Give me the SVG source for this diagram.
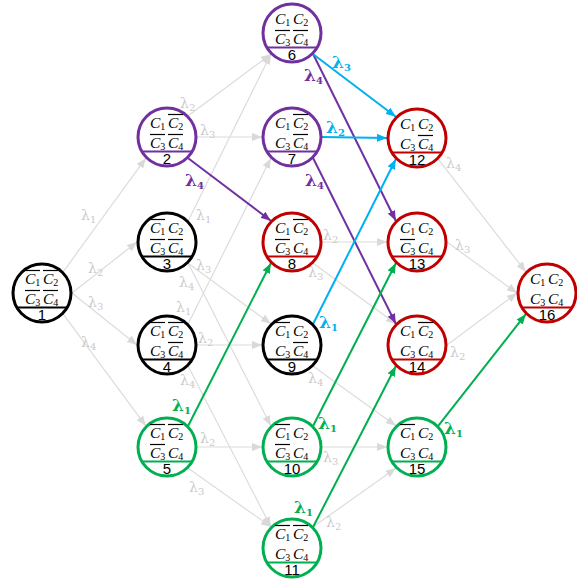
<svg xmlns="http://www.w3.org/2000/svg" width="577" height="579" viewBox="0 0 577 579">
<style>
.bg{fill:#fff}
.n circle{fill:#fff;stroke-width:3}
.n .sep{stroke-width:2}
.k circle,.k .sep{stroke:#000}
.p circle,.p .sep{stroke:#7030A0}
.r circle,.r .sep{stroke:#C00000}
.g circle,.g .sep{stroke:#00B050}
.c{font-family:"Liberation Serif","DejaVu Serif",serif;font-style:italic;font-size:15.5px;fill:#000}
.s{font-size:10px;font-style:normal}
.num{font-family:"Liberation Sans",Arial,sans-serif;font-size:15px;fill:#000;text-anchor:middle}
.e{fill:none}
.eg{stroke:#dcdcdc;stroke-width:1.2;marker-end:url(#ag)}
.ep{stroke:#7030A0;stroke-width:2;marker-end:url(#ap)}
.eb{stroke:#00B0F0;stroke-width:2;marker-end:url(#ab)}
.en{stroke:#00B050;stroke-width:2;marker-end:url(#an)}
.lg{font-family:"DejaVu Serif","Liberation Serif",serif;font-size:14px;fill:#cacaca}
.lc{font-family:"DejaVu Serif","Liberation Serif",serif;font-size:17px;font-weight:bold}
.ls{font-size:10px}
</style>
<defs>
<marker id="ag" markerWidth="10" markerHeight="8" refX="10" refY="4" orient="auto" markerUnits="userSpaceOnUse"><path d="M0,0L10,4L0,8z" fill="#d9d9d9"/></marker>
<marker id="ap" markerWidth="10" markerHeight="8" refX="10" refY="4" orient="auto" markerUnits="userSpaceOnUse"><path d="M0,0L10,4L0,8z" fill="#7030A0"/></marker>
<marker id="ab" markerWidth="10" markerHeight="8" refX="10" refY="4" orient="auto" markerUnits="userSpaceOnUse"><path d="M0,0L10,4L0,8z" fill="#00B0F0"/></marker>
<marker id="an" markerWidth="10" markerHeight="8" refX="10" refY="4" orient="auto" markerUnits="userSpaceOnUse"><path d="M0,0L10,4L0,8z" fill="#00B050"/></marker>
</defs>
<rect class="bg" width="577" height="579"/>
<g id="connectors" class="e">
<line class="eg" x1="63.2" y1="271.8" x2="145.8" y2="158.2"/>
<line class="eg" x1="72" y1="293" x2="137" y2="242"/>
<line class="eg" x1="72" y1="293" x2="137" y2="345"/>
<line class="eg" x1="63.2" y1="314.2" x2="145.8" y2="425.8"/>
<line class="eg" x1="188.2" y1="115.8" x2="270.8" y2="54.2"/>
<line class="eg" x1="197" y1="137" x2="262" y2="137"/>
<line class="eg" x1="188.2" y1="220.8" x2="270.8" y2="54.2"/>
<line class="eg" x1="188.2" y1="263.2" x2="270.8" y2="323.8"/>
<line class="eg" x1="188.2" y1="263.2" x2="270.8" y2="425.8"/>
<line class="eg" x1="188.2" y1="323.8" x2="270.8" y2="158.2"/>
<line class="eg" x1="197" y1="345" x2="262" y2="345"/>
<line class="eg" x1="188.2" y1="366.2" x2="270.8" y2="526.8"/>
<line class="eg" x1="197" y1="447" x2="262" y2="447"/>
<line class="eg" x1="188.2" y1="468.2" x2="270.8" y2="526.8"/>
<line class="eg" x1="322" y1="242" x2="387" y2="242"/>
<line class="eg" x1="313.2" y1="263.2" x2="395.8" y2="323.8"/>
<line class="eg" x1="313.2" y1="366.2" x2="395.8" y2="425.8"/>
<line class="eg" x1="322" y1="447" x2="387" y2="447"/>
<line class="eg" x1="313.2" y1="526.8" x2="395.8" y2="468.2"/>
<line class="eg" x1="438.2" y1="159.2" x2="525.8" y2="271.8"/>
<line class="eg" x1="447" y1="242" x2="517" y2="293"/>
<line class="eg" x1="447" y1="345" x2="517" y2="293"/>
<line class="ep" x1="188.2" y1="158.2" x2="270.8" y2="220.8"/>
<line class="ep" x1="313.2" y1="54.2" x2="395.8" y2="220.8"/>
<line class="ep" x1="313.2" y1="158.2" x2="395.8" y2="323.8"/>
<line class="eb" x1="313.2" y1="54.2" x2="395.8" y2="116.8"/>
<line class="eb" x1="322" y1="137" x2="387" y2="138"/>
<line class="eb" x1="313.2" y1="323.8" x2="395.8" y2="159.2"/>
<line class="en" x1="188.2" y1="425.8" x2="270.8" y2="263.2"/>
<line class="en" x1="313.2" y1="425.8" x2="395.8" y2="263.2"/>
<line class="en" x1="313.2" y1="526.8" x2="395.8" y2="366.2"/>
<line class="en" x1="438.2" y1="425.8" x2="525.8" y2="314.2"/>
</g>
<g id="edge-labels">
<text class="lg" x="81" y="220">λ<tspan class="ls" dy="3">1</tspan></text>
<text class="lg" x="88" y="273">λ<tspan class="ls" dy="3">2</tspan></text>
<text class="lg" x="88" y="307">λ<tspan class="ls" dy="3">3</tspan></text>
<text class="lg" x="81" y="347">λ<tspan class="ls" dy="3">4</tspan></text>
<text class="lg" x="180" y="108">λ<tspan class="ls" dy="3">2</tspan></text>
<text class="lg" x="200" y="135">λ<tspan class="ls" dy="3">3</tspan></text>
<text class="lg" x="196" y="220">λ<tspan class="ls" dy="3">1</tspan></text>
<text class="lg" x="196" y="270">λ<tspan class="ls" dy="3">3</tspan></text>
<text class="lg" x="179" y="287">λ<tspan class="ls" dy="3">4</tspan></text>
<text class="lg" x="176" y="312">λ<tspan class="ls" dy="3">1</tspan></text>
<text class="lg" x="198" y="343">λ<tspan class="ls" dy="3">2</tspan></text>
<text class="lg" x="180" y="385">λ<tspan class="ls" dy="3">4</tspan></text>
<text class="lg" x="200" y="443">λ<tspan class="ls" dy="3">2</tspan></text>
<text class="lg" x="189" y="492">λ<tspan class="ls" dy="3">3</tspan></text>
<text class="lg" x="323" y="240">λ<tspan class="ls" dy="3">2</tspan></text>
<text class="lg" x="308" y="277">λ<tspan class="ls" dy="3">3</tspan></text>
<text class="lg" x="308" y="383">λ<tspan class="ls" dy="3">4</tspan></text>
<text class="lg" x="323" y="462">λ<tspan class="ls" dy="3">3</tspan></text>
<text class="lg" x="326" y="527">λ<tspan class="ls" dy="3">2</tspan></text>
<text class="lg" x="446" y="168">λ<tspan class="ls" dy="3">4</tspan></text>
<text class="lg" x="455" y="250">λ<tspan class="ls" dy="3">3</tspan></text>
<text class="lg" x="450" y="357">λ<tspan class="ls" dy="3">2</tspan></text>
<text class="lc" x="185" y="186" fill="#7030A0">λ<tspan class="ls" dy="3">4</tspan></text>
<text class="lc" x="304" y="81" fill="#7030A0">λ<tspan class="ls" dy="3">4</tspan></text>
<text class="lc" x="305" y="186" fill="#7030A0">λ<tspan class="ls" dy="3">4</tspan></text>
<text class="lc" x="332" y="68" fill="#00B0F0">λ<tspan class="ls" dy="3">3</tspan></text>
<text class="lc" x="326" y="133" fill="#00B0F0">λ<tspan class="ls" dy="3">2</tspan></text>
<text class="lc" x="319" y="328" fill="#00B0F0">λ<tspan class="ls" dy="3">1</tspan></text>
<text class="lc" x="172" y="411" fill="#00B050">λ<tspan class="ls" dy="3">1</tspan></text>
<text class="lc" x="318" y="429" fill="#00B050">λ<tspan class="ls" dy="3">1</tspan></text>
<text class="lc" x="294" y="513" fill="#00B050">λ<tspan class="ls" dy="3">1</tspan></text>
<text class="lc" x="444" y="434" fill="#00B050">λ<tspan class="ls" dy="3">1</tspan></text>
</g>
<defs>
<g id="t1"><text class="c" x="-17" y="-9">C<tspan class="s" dy="2">1</tspan></text></g>
<g id="t2"><text class="c" x="1" y="-9">C<tspan class="s" dy="2">2</tspan></text></g>
<g id="t3"><text class="c" x="-17" y="11">C<tspan class="s" dy="2">3</tspan></text></g>
<g id="t4"><text class="c" x="1" y="11">C<tspan class="s" dy="2">4</tspan></text></g>
<path id="o1" d="M-17,-22.5h15" stroke="#000" stroke-width="1.2"/>
<path id="o2" d="M1,-22.5h15" stroke="#000" stroke-width="1.2"/>
<path id="o3" d="M-17,-2.5h15" stroke="#000" stroke-width="1.2"/>
<path id="o4" d="M1,-2.5h15" stroke="#000" stroke-width="1.2"/>
</defs>
<g id="node1" class="n k" transform="translate(42,293)"><circle r="29"/><line class="sep" x1="-25" y1="14.5" x2="25" y2="14.5"/><use href="#t1"/><use href="#t2"/><use href="#t3"/><use href="#t4"/><use href="#o1"/><use href="#o2"/><use href="#o3"/><use href="#o4"/><text class="num" y="27">1</text></g>
<g id="node2" class="n p" transform="translate(167,137)"><circle r="29"/><line class="sep" x1="-25" y1="14.5" x2="25" y2="14.5"/><use href="#t1"/><use href="#t2"/><use href="#t3"/><use href="#t4"/><use href="#o2"/><use href="#o3"/><use href="#o4"/><text class="num" y="27">2</text></g>
<g id="node3" class="n k" transform="translate(167,242)"><circle r="29"/><line class="sep" x1="-25" y1="14.5" x2="25" y2="14.5"/><use href="#t1"/><use href="#t2"/><use href="#t3"/><use href="#t4"/><use href="#o1"/><use href="#o3"/><use href="#o4"/><text class="num" y="27">3</text></g>
<g id="node4" class="n k" transform="translate(167,345)"><circle r="29"/><line class="sep" x1="-25" y1="14.5" x2="25" y2="14.5"/><use href="#t1"/><use href="#t2"/><use href="#t3"/><use href="#t4"/><use href="#o1"/><use href="#o2"/><use href="#o4"/><text class="num" y="27">4</text></g>
<g id="node5" class="n g" transform="translate(167,447)"><circle r="29"/><line class="sep" x1="-25" y1="14.5" x2="25" y2="14.5"/><use href="#t1"/><use href="#t2"/><use href="#t3"/><use href="#t4"/><use href="#o1"/><use href="#o2"/><use href="#o3"/><text class="num" y="27">5</text></g>
<g id="node6" class="n p" transform="translate(292,33)"><circle r="29"/><line class="sep" x1="-25" y1="14.5" x2="25" y2="14.5"/><use href="#t1"/><use href="#t2"/><use href="#t3"/><use href="#t4"/><use href="#o3"/><use href="#o4"/><text class="num" y="27">6</text></g>
<g id="node7" class="n p" transform="translate(292,137)"><circle r="29"/><line class="sep" x1="-25" y1="14.5" x2="25" y2="14.5"/><use href="#t1"/><use href="#t2"/><use href="#t3"/><use href="#t4"/><use href="#o2"/><use href="#o4"/><text class="num" y="27">7</text></g>
<g id="node8" class="n r" transform="translate(292,242)"><circle r="29"/><line class="sep" x1="-25" y1="14.5" x2="25" y2="14.5"/><use href="#t1"/><use href="#t2"/><use href="#t3"/><use href="#t4"/><use href="#o2"/><use href="#o3"/><text class="num" y="27">8</text></g>
<g id="node9" class="n k" transform="translate(292,345)"><circle r="29"/><line class="sep" x1="-25" y1="14.5" x2="25" y2="14.5"/><use href="#t1"/><use href="#t2"/><use href="#t3"/><use href="#t4"/><use href="#o1"/><use href="#o4"/><text class="num" y="27">9</text></g>
<g id="node10" class="n g" transform="translate(292,447)"><circle r="29"/><line class="sep" x1="-25" y1="14.5" x2="25" y2="14.5"/><use href="#t1"/><use href="#t2"/><use href="#t3"/><use href="#t4"/><use href="#o1"/><use href="#o3"/><text class="num" y="27">10</text></g>
<g id="node11" class="n g" transform="translate(292,548)"><circle r="29"/><line class="sep" x1="-25" y1="14.5" x2="25" y2="14.5"/><use href="#t1"/><use href="#t2"/><use href="#t3"/><use href="#t4"/><use href="#o1"/><use href="#o2"/><text class="num" y="27">11</text></g>
<g id="node12" class="n r" transform="translate(417,138)"><circle r="29"/><line class="sep" x1="-25" y1="14.5" x2="25" y2="14.5"/><use href="#t1"/><use href="#t2"/><use href="#t3"/><use href="#t4"/><use href="#o4"/><text class="num" y="27">12</text></g>
<g id="node13" class="n r" transform="translate(417,242)"><circle r="29"/><line class="sep" x1="-25" y1="14.5" x2="25" y2="14.5"/><use href="#t1"/><use href="#t2"/><use href="#t3"/><use href="#t4"/><use href="#o3"/><text class="num" y="27">13</text></g>
<g id="node14" class="n r" transform="translate(417,345)"><circle r="29"/><line class="sep" x1="-25" y1="14.5" x2="25" y2="14.5"/><use href="#t1"/><use href="#t2"/><use href="#t3"/><use href="#t4"/><use href="#o2"/><text class="num" y="27">14</text></g>
<g id="node15" class="n g" transform="translate(417,447)"><circle r="29"/><line class="sep" x1="-25" y1="14.5" x2="25" y2="14.5"/><use href="#t1"/><use href="#t2"/><use href="#t3"/><use href="#t4"/><use href="#o1"/><text class="num" y="27">15</text></g>
<g id="node16" class="n r" transform="translate(547,293)"><circle r="29"/><line class="sep" x1="-25" y1="14.5" x2="25" y2="14.5"/><use href="#t1"/><use href="#t2"/><use href="#t3"/><use href="#t4"/><text class="num" y="27">16</text></g>
</svg>
